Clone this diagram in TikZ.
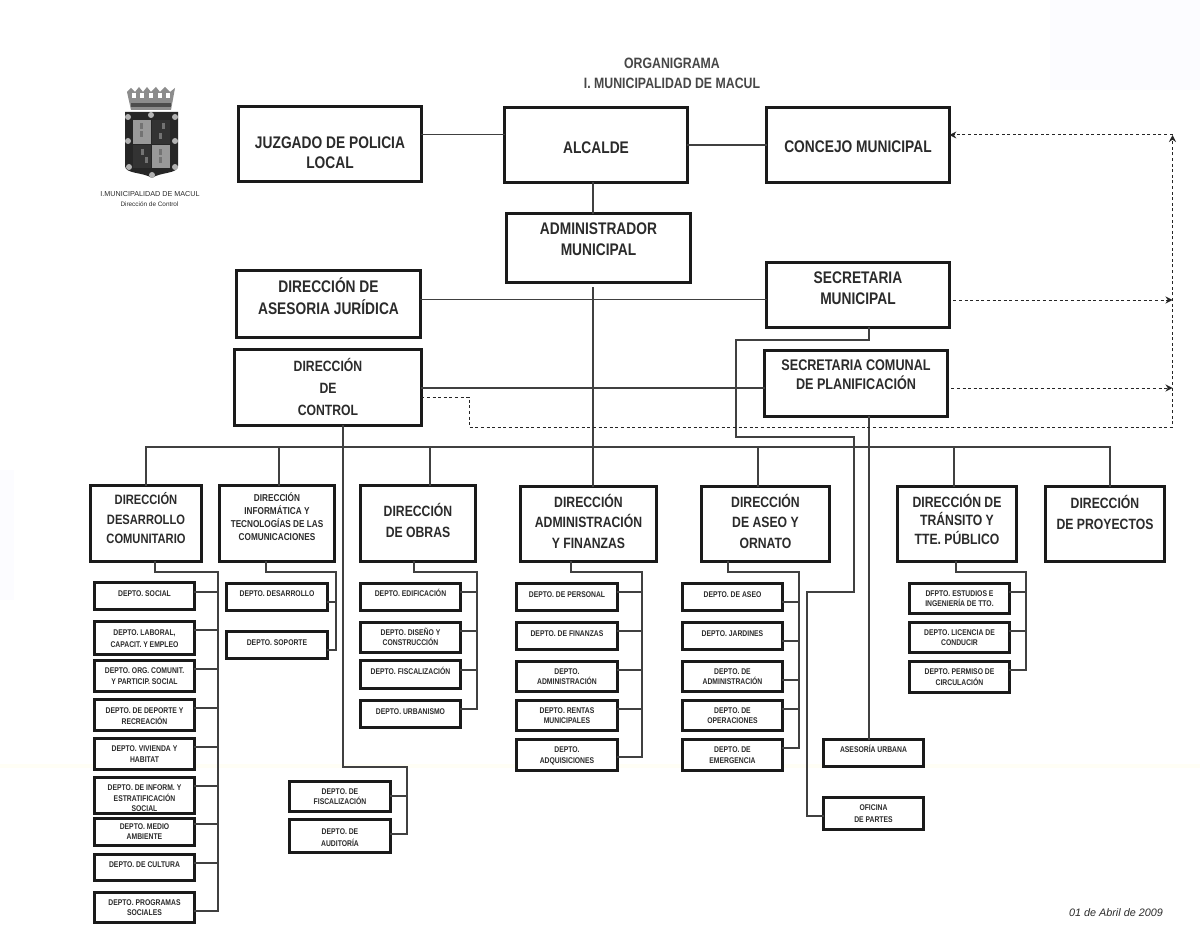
\documentclass[tikz,border=0pt]{standalone}
\usepackage{fontspec}
\usetikzlibrary{arrows.meta}
\newfontfamily\nb[FakeStretch=0.82]{Liberation Sans Bold}
\newfontfamily\ns{Liberation Sans}
\newfontfamily\nsi{Liberation Sans Italic}
\definecolor{ink}{HTML}{1A1A1A}
\definecolor{lin}{HTML}{404040}
\definecolor{txt}{HTML}{2B2B2B}
\newcommand\fs[2]{\fontsize{#1pt}{#2pt}\selectfont}
\newcommand\bx[8]{%
  \node[#6,minimum width={(#4-#2-3.4)*1pt},minimum height={(#5-#3-3.4)*1pt}] (#1) at ({(#2+#4)/2},{(#3+#5)/2})
  {\raisebox{\dimexpr#7pt-0.36em\relax}[0pt][0pt]{\begin{tabular}{@{}c@{}}#8\end{tabular}}};}
\tikzset{
  boxbase/.style={draw=ink,line width=3.4pt,fill=white,inner sep=0pt,outer sep=0pt,text=txt},
  big/.style={boxbase,font=\nb\fs{16.8}{#1}},
  big/.default=21,
  mid/.style={boxbase,font=\nb\fs{14.9}{#1}},
  mid/.default=21,
  info/.style={boxbase,font=\nb\fs{10}{13}},
  dept/.style={boxbase,font=\nb\fs{8.3}{#1}},
  dept/.default=10.4,
  conn/.style={draw=lin,line width=1.2pt},
  dashln/.style={draw=black!85,line width=1pt,dash pattern=on 3pt off 2.6pt},
  tip/.style={-{Stealth[length=7pt,width=7pt]}},
  plain/.style={inner sep=0pt,outer sep=0pt,text=txt,align=center}
}
\begin{document}
\begin{tikzpicture}[x=1pt,y=-1pt]
\useasboundingbox (0,0) rectangle (1200,936);
\fill[white] (0,0) rectangle (1200,936);
% faint scan tints
\fill[blue!1.2!white] (0,470) rectangle (14,600);
\fill[blue!1!white] (1050,0) rectangle (1200,90);
\fill[yellow!4!white] (0,764) rectangle (1200,768);

% emblem
\fill[black!45] (127,92) -- (131,88) -- (135,92) -- (139,87) -- (143,92) -- (147,87) -- (151,92) -- (156,87) -- (160,92) -- (165,87) -- (170,92) -- (175,88) -- (171,110) -- (131,110) -- cycle;
\fill[black!70] (131,103) rectangle (171,107);
\foreach \cx in {134,142,151,160,168} \fill[white] (\cx-2,93) rectangle (\cx+2,98);
\fill[black!85] (125,112) -- (178,112) -- (178,166) .. controls (178,174) and (160,172) .. (152,178) .. controls (143,172) and (125,174) .. (125,166) -- cycle;
\fill[black!40] (133,120) rectangle (151,144);
\fill[black!80] (152,120) rectangle (170,144);
\fill[black!80] (133,145) rectangle (151,168);
\fill[black!40] (152,145) rectangle (170,168);
\foreach \px/\py in {128/117,151/115,175/117,128/141,175/141,129/167,175/167,152/175}
  \fill[black!30] (\px,\py) circle (3);
\foreach \px/\py in {141/126,141/134,163/126,160/136,142/152,146/160,160/152,160/160}
  \fill[black!55] (\px-1.5,\py-3) rectangle (\px+1.5,\py+3);
\node[plain,font=\ns\fs{7.2}{10}] (emb1) at (150,194) {I.MUNICIPALIDAD DE MACUL};
\node[plain,font=\ns\fs{6.4}{10}] (emb2) at (149.5,204) {Dirección de Control};

% title
\node[plain,font=\nb\fs{15}{19.5},text=black!72] (title) at (672,73.5) {ORGANIGRAMA\\I. MUNICIPALIDAD DE MACUL};

% top boxes
\bx{juz}{237}{105}{423}{183}{big=20}{-9}{JUZGADO DE POLICIA\\LOCAL}
\bx{alc}{503}{106}{689}{184}{big}{-3}{ALCALDE}
\bx{con}{765}{106}{951}{184}{big}{-2}{CONCEJO MUNICIPAL}
\bx{adm}{505}{212}{692}{284}{big}{8.5}{ADMINISTRADOR\\MUNICIPAL}
\bx{ase}{235}{269}{422}{339}{big}{6.5}{DIRECCIÓN DE\\ASESORIA JURÍDICA}
\bx{ctl}{233}{348}{423}{427}{mid=22}{0}{DIRECCIÓN\\DE\\CONTROL}
\bx{sec}{765}{261}{951}{329}{big}{6.5}{SECRETARIA\\MUNICIPAL}
\bx{spl}{763}{349}{949}{418}{mid,font=\nb\fs{15.4}{18}}{9.5}{SECRETARIA COMUNAL\\DE PLANIFICACIÓN}

% directions
\bx{ddc}{89}{484}{203}{563}{mid,font=\nb\fs{13.6}{19.5}}{4.5}{DIRECCIÓN\\DESARROLLO\\COMUNITARIO}
\bx{inf}{218}{484}{336}{563}{info}{6}{DIRECCIÓN\\INFORMÁTICA Y\\TECNOLOGÍAS DE LAS\\COMUNICACIONES}
\bx{obr}{359}{484}{477}{563}{mid=21}{2}{DIRECCIÓN\\DE OBRAS}
\bx{fin}{519}{485}{658}{563}{mid=20.5}{2}{DIRECCIÓN\\ADMINISTRACIÓN\\Y FINANZAS}
\bx{aso}{700}{485}{831}{563}{mid=20.5}{2}{DIRECCIÓN\\DE ASEO Y\\ORNATO}
\bx{tra}{896}{485}{1018}{563}{mid=18}{4}{DIRECCIÓN DE\\TRÁNSITO Y\\TTE. PÚBLICO}
\bx{pro}{1044}{485}{1166}{563}{mid=21}{11}{DIRECCIÓN\\DE PROYECTOS}

% column 1
\bx{a1}{93}{581}{196}{611}{dept}{3}{DEPTO. SOCIAL}
\bx{a2}{93}{620}{196}{656}{dept=12}{0}{DEPTO. LABORAL,\\CAPACIT. Y EMPLEO}
\bx{a3}{93}{659}{196}{693}{dept}{0}{DEPTO. ORG. COMUNIT.\\Y PARTICIP. SOCIAL}
\bx{a4}{93}{698}{196}{732}{dept}{-1}{DEPTO. DE DEPORTE Y\\RECREACIÓN}
\bx{a5}{93}{737}{196}{771}{dept}{0}{DEPTO. VIVIENDA Y\\HABITAT}
\bx{a6}{93}{776}{196}{815}{dept=10}{-2.5}{DEPTO. DE INFORM. Y\\ESTRATIFICACIÓN\\SOCIAL}
\bx{a7}{93}{817}{196}{847}{dept}{0.5}{DEPTO. MEDIO\\AMBIENTE}
\bx{a8}{93}{853}{196}{882}{dept}{3.5}{DEPTO. DE CULTURA}
\bx{a9}{93}{891}{196}{924}{dept}{0}{DEPTO. PROGRAMAS\\SOCIALES}
% column 2
\bx{b1}{225}{582}{329}{612}{dept}{4}{DEPTO. DESARROLLO}
\bx{b2}{225}{630}{329}{660}{dept}{3}{DEPTO. SOPORTE}
% column 3
\bx{c1}{359}{582}{462}{612}{dept}{4}{DEPTO. EDIFICACIÓN}
\bx{c2}{359}{621}{462}{654}{dept}{0}{DEPTO. DISEÑO Y\\CONSTRUCCIÓN}
\bx{c3}{359}{659}{462}{690}{dept}{3.5}{DEPTO. FISCALIZACIÓN}
\bx{c4}{359}{699}{462}{729}{dept}{3}{DEPTO. URBANISMO}
% control
\bx{k1}{288}{780}{392}{813}{dept}{0}{DEPTO. DE\\FISCALIZACIÓN}
\bx{k2}{288}{818}{392}{854}{dept=12}{-1}{DEPTO. DE\\AUDITORÍA}
% finance
\bx{d1}{515}{582}{619}{612}{dept}{3}{DEPTO. DE PERSONAL}
\bx{d2}{515}{621}{619}{651}{dept}{3}{DEPTO. DE FINANZAS}
\bx{d3}{515}{660}{619}{693}{dept}{0}{DEPTO.\\ADMINISTRACIÓN}
\bx{d4}{515}{699}{619}{732}{dept}{0}{DEPTO. RENTAS\\MUNICIPALES}
\bx{d5}{515}{738}{619}{772}{dept}{0}{DEPTO.\\ADQUISICIONES}
% aseo
\bx{e1}{681}{582}{784}{612}{dept}{3}{DEPTO. DE ASEO}
\bx{e2}{681}{621}{784}{651}{dept}{3}{DEPTO. JARDINES}
\bx{e3}{681}{660}{784}{693}{dept}{0}{DEPTO. DE\\ADMINISTRACIÓN}
\bx{e4}{681}{699}{784}{732}{dept}{0}{DEPTO. DE\\OPERACIONES}
\bx{e5}{681}{738}{784}{772}{dept}{0}{DEPTO. DE\\EMERGENCIA}
% transito
\bx{f1}{908}{582}{1011}{615}{dept}{0}{DFPTO. ESTUDIOS E\\INGENIERÍA DE TTO.}
\bx{f2}{908}{621}{1011}{654}{dept}{0}{DEPTO. LICENCIA DE\\CONDUCIR}
\bx{f3}{908}{660}{1011}{694}{dept}{0}{DEPTO. PERMISO DE\\CIRCULACIÓN}
% planning / secretary
\bx{g1}{822}{738}{925}{768}{dept}{4}{ASESORÍA URBANA}
\bx{g2}{822}{796}{925}{831}{dept=12}{0}{OFICINA\\DE PARTES}

% top connectors
\draw[conn] (juz.east |- 0,134.5) -- (alc.west |- 0,134.5);
\draw[conn] (alc.east |- 0,145) -- (con.west |- 0,145);
\draw[conn] (alc.south -| 593,0) -- (adm.north -| 593,0);
\draw[conn] (ase.east |- 0,299.5) -- (sec.west |- 0,299.5);
\draw[conn] (ctl.east |- 0,388) -- (spl.west |- 0,388);

% bus
\coordinate (busL) at (146,447);
\coordinate (busR) at (1110,447);
\draw[conn] (ddc.north -| busL) -- (busL) -- (busR) -- (pro.north -| busR);
\draw[conn] (279,447) -- (inf.north -| 279,0);
\draw[conn] (430,447) -- (obr.north -| 430,0);
\draw[conn] (758,447) -- (aso.north -| 758,0);
\draw[conn] (954,447) -- (tra.north -| 954,0);
\draw[conn,shorten <=5pt] (adm.south -| 593,0) -- (fin.north -| 593,0);

% control to its departments
\coordinate (ctlR) at (407,767);
\draw[conn] (ctl.south -| 343,0) -- (343,767) -- (ctlR) -- (407,834) -- (k2.east |- 0,834);
\draw[conn] (ctlR |- 0,796) -- (k1.east |- 0,796);

% secretary to oficina de partes
\draw[conn] (sec.south -| 869,0) -- (869,340) -- (736,340) -- (736,437) -- (854,437) -- (854,592) -- (807,592) -- (807,816) -- (g2.west |- 0,816);
% planning to asesoria
\draw[conn] (spl.south -| 869,0) -- (g1.north -| 869,0);

% department rails
\draw[conn] (ddc.south -| 155,0) -- (155,572) -- (218,572) -- (218,911) -- (a9.east |- 0,911);
\foreach \n/\y in {a1/592,a2/630,a3/669,a4/708,a5/747,a6/786,a7/824,a8/863}
  \draw[conn] (\n.east |- 0,\y) -- (218,\y);
\draw[conn] (inf.south -| 266,0) -- (266,572) -- (336,572) -- (336,650) -- (b2.east |- 0,650);
\draw[conn] (b1.east |- 0,602) -- (336,602);
\draw[conn] (obr.south -| 414,0) -- (414,572) -- (477,572) -- (477,709) -- (c4.east |- 0,709);
\foreach \n/\y in {c1/592,c2/631,c3/670}
  \draw[conn] (\n.east |- 0,\y) -- (477,\y);
\draw[conn] (fin.south -| 571,0) -- (571,572) -- (642,572) -- (642,757) -- (d5.east |- 0,757);
\foreach \n/\y in {d1/592,d2/631,d3/670,d4/709}
  \draw[conn] (\n.east |- 0,\y) -- (642,\y);
\draw[conn] (aso.south -| 728,0) -- (728,572) -- (799,572) -- (799,748) -- (e5.east |- 0,748);
\foreach \n/\y in {e1/602,e2/641,e3/680,e4/709}
  \draw[conn] (\n.east |- 0,\y) -- (799,\y);
\draw[conn] (tra.south -| 956,0) -- (956,572) -- (1026,572) -- (1026,670) -- (f3.east |- 0,670);
\foreach \n/\y in {f1/592,f2/631}
  \draw[conn] (\n.east |- 0,\y) -- (1026,\y);

% dashed
\coordinate (dashR) at (1172.5,427);
\coordinate (dashT) at (1172.5,135);
\draw[dashln,tip] (ctl.east |- 0,397) -- (469,397) -- (469,427) -- (dashR) -- (dashT);
\draw[dashln,tip] (dashT) -- (con.east |- dashT);
\draw[dashln,tip,shorten <=4pt] (sec.east |- 0,300) -- (dashR |- 0,300);
\draw[dashln,tip,shorten <=4pt] (spl.east |- 0,388) -- (dashR |- 0,388);

% date
\node[plain,font=\nsi\fs{10.8}{12}] (date) at (1116,913) {01 de Abril de 2009};
\end{tikzpicture}
\end{document}
